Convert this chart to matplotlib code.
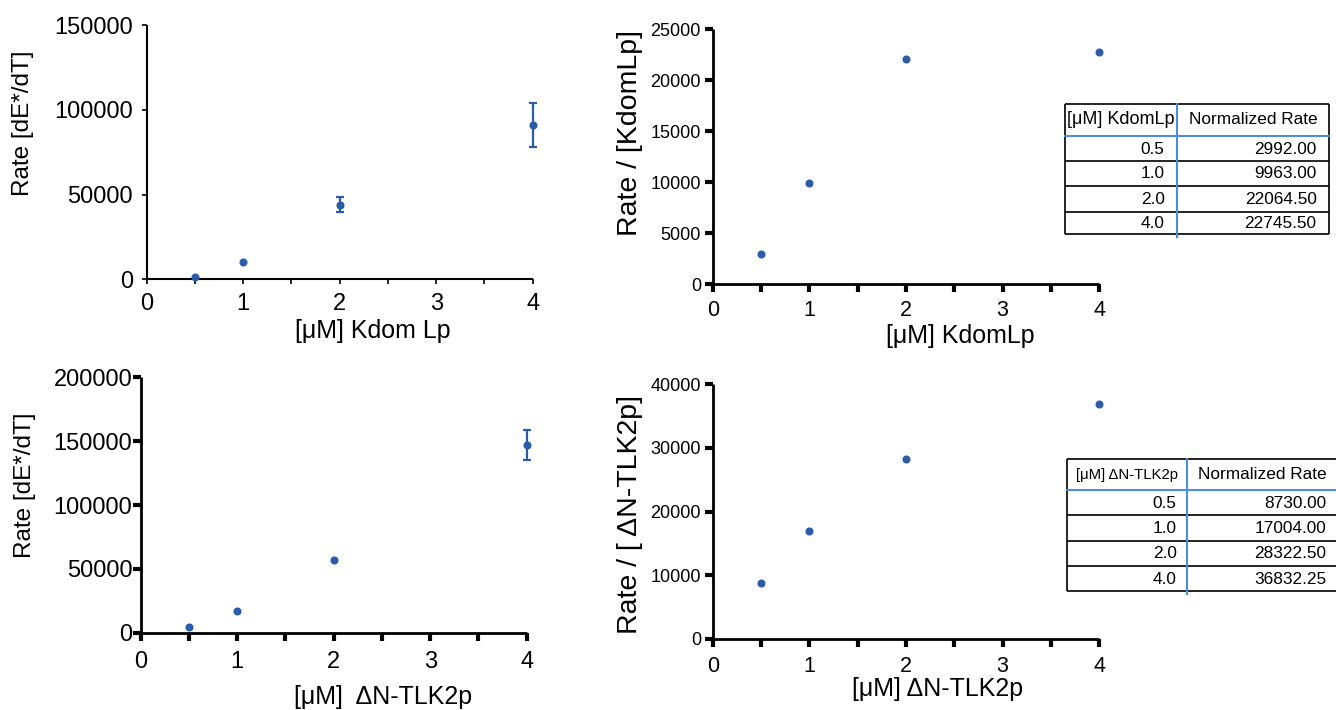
import matplotlib
matplotlib.use('Agg')
import matplotlib.pyplot as plt
import numpy as np

plt.rcParams['font.family'] = ['Liberation Sans', 'DejaVu Sans']

# data
conc = [0.5, 1.0, 2.0, 4.0]
kdom_rate = [1500, 9960, 44100, 91000]
kdom_err = [0, 0, 4500, 12900]
tlk_rate = [4370, 17000, 56600, 147300]
tlk_err = [0, 0, 0, 11700]
kdom_norm = [2992.00, 9963.00, 22064.50, 22745.50]
tlk_norm = [8730.00, 17004.00, 28322.50, 36832.25]
x_ticks = [0, 0.5, 1, 1.5, 2, 2.5, 3, 3.5, 4]

blue = '#2b5ca9'
line_blue = '#4a90d9'
W, H = 1336, 710

fig = plt.figure(figsize=(W / 100, H / 100), dpi=100)


def px_box(l, t, r, b):
    return [l / W, 1 - b / H, (r - l) / W, (b - t) / H]


def style_axes(ax, ymax, ystep, thick, xfs, yfs, xpad, ypad):
    ax.set_xlim(0, 4)
    ax.set_ylim(0, ymax)
    ax.set_xticks(x_ticks)
    ax.set_xticklabels([str(int(v)) if v == int(v) else '' for v in x_ticks])
    yt = list(range(0, ymax + 1, ystep))
    ax.set_yticks(yt)
    ax.set_yticklabels([str(v) for v in yt])
    for s in ['top', 'right']:
        ax.spines[s].set_visible(False)
    for s in ['left', 'bottom']:
        ax.spines[s].set_linewidth(2.0 if thick else 1.5)
        ax.spines[s].set_capstyle('butt')
    if thick:
        ax.tick_params(width=3, length=5.5)
    else:
        ax.tick_params(width=1.2, length=3.8)
    ax.tick_params(axis='x', pad=xpad, labelsize=xfs)
    ax.tick_params(axis='y', pad=ypad, labelsize=yfs)
    ax.patch.set_alpha(0)


def plot_points(ax, x, y, err=None):
    if err is not None:
        e = [v if v > 0 else np.nan for v in err]
        ax.errorbar(x, y, yerr=e, fmt='none', ecolor=blue, elinewidth=1.6,
                    capsize=3, capthick=1.6, clip_on=False, zorder=3)
    ax.plot(x, y, 'o', color=blue, markersize=4.8, clip_on=False, zorder=4)


# top left
ax1 = fig.add_axes(px_box(146.7, 25, 532.7, 279.3))
style_axes(ax1, 150000, 50000, False, 17, 17, 6, 6)
plot_points(ax1, conc, kdom_rate, kdom_err)

# top right
ax2 = fig.add_axes(px_box(712.7, 29.3, 1099.3, 284.3))
style_axes(ax2, 25000, 5000, True, 15.5, 13, 6, 3)
plot_points(ax2, conc, kdom_norm)

# bottom left
ax3 = fig.add_axes(px_box(140.7, 377.3, 526.7, 632.7))
style_axes(ax3, 200000, 50000, True, 17, 17, 8, 0.5)
plot_points(ax3, conc, tlk_rate, tlk_err)

# bottom right
ax4 = fig.add_axes(px_box(712.7, 384.3, 1099.3, 638.7))
style_axes(ax4, 40000, 10000, True, 15.5, 13, 7, 3)
plot_points(ax4, conc, tlk_norm)


def ftext(x, y, s, **kw):
    fig.text(x / W, 1 - y / H, s, ha='center', va='center', **kw)


ftext(23, 123, 'Rate [dE*/dT]', fontsize=17.5, rotation=90)
ftext(373, 331, '[\u03bcM] Kdom Lp', fontsize=18)
ftext(630, 133, 'Rate / [KdomLp]', fontsize=20.5, rotation=90)
ftext(960, 336, '[\u03bcM] KdomLp', fontsize=18)
ftext(25, 485, 'Rate [dE*/dT]', fontsize=17.5, rotation=90)
ftext(383, 697, '[\u03bcM]  \u0394N-TLK2p', fontsize=18)
ftext(630, 514, 'Rate / [ \u0394N-TLK2p]', fontsize=20.5, rotation=90)
ftext(938, 689, '[\u03bcM] \u0394N-TLK2p', fontsize=18)

# tables drawn in pixel space on an overlay
tax = fig.add_axes([0, 0, 1, 1])
tax.set_xlim(0, W)
tax.set_ylim(H, 0)
tax.axis('off')


def draw_table(left, split, right, ys, head1, head1_fs, vals1, vals2, pad):
    k = dict(color='black', lw=1.2, solid_capstyle='butt')
    tax.plot([left, right], [ys[0], ys[0]], **k)
    tax.plot([left, right], [ys[-1], ys[-1]], **k)
    tax.plot([left, left], [ys[0], ys[-1]], **k)
    tax.plot([right, right], [ys[0], ys[-1]], **k)
    for yy in ys[2:-1]:
        tax.plot([left, right], [yy, yy], **k)
    tax.plot([left, right], [ys[1], ys[1]], color=line_blue, lw=1.5)
    tax.plot([split, split], [ys[0], ys[-1] + 3], color=line_blue, lw=1.5)
    hy = (ys[0] + ys[1]) / 2
    tax.text((left + split) / 2, hy, head1, ha='center', va='center', fontsize=head1_fs)
    tax.text((split + right) / 2, hy, 'Normalized Rate', ha='center', va='center', fontsize=12.4)
    for i in range(len(vals1)):
        cy = (ys[i + 1] + ys[i + 2]) / 2 + 0.5
        tax.text(split - pad, cy, '%.1f' % vals1[i], ha='right', va='center', fontsize=12.4)
        tax.text(right - pad, cy, '%.2f' % vals2[i], ha='right', va='center', fontsize=12.4)


draw_table(1065, 1177, 1329, [104, 136, 161, 186, 212, 234],
           '[\u03bcM] KdomLp', 13, conc, kdom_norm, 12.5)
draw_table(1067, 1187, 1337, [459, 490, 515, 541, 566, 591],
           '[\u03bcM] \u0394N-TLK2p', 10.7, conc, tlk_norm, 10.5)

fig.savefig('out.png', dpi=100)
